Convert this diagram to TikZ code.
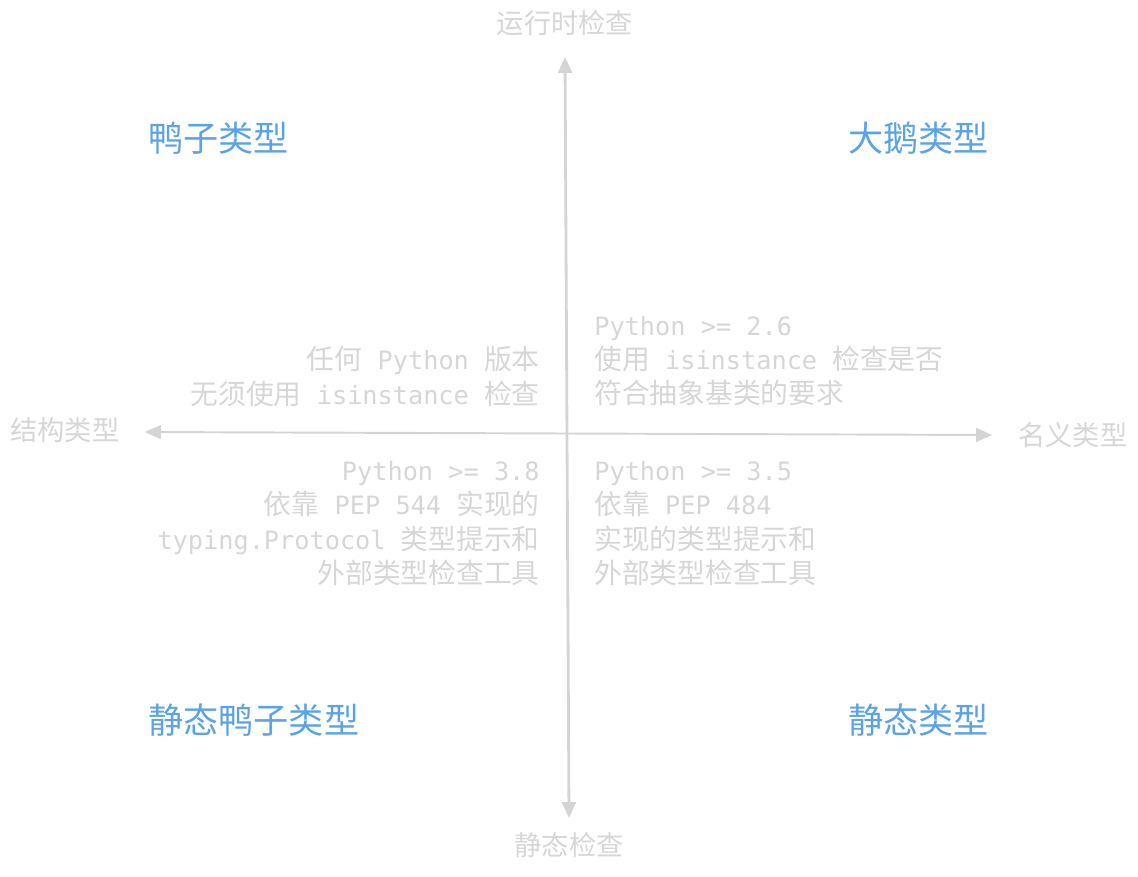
\documentclass[tikz,border=0pt]{standalone}
\usepackage{fontspec}
\setmainfont{Noto Sans CJK SC}
\setmonofont{DejaVu Sans Mono}[Scale=0.91]
\usetikzlibrary{arrows.meta}
\definecolor{axisgray}{HTML}{D4D4D4}
\definecolor{notegray}{HTML}{D6D6D6}
\definecolor{typeblue}{HTML}{5BA3E6}

\begin{document}
\begin{tikzpicture}[x=0.02cm,y=-0.02cm,
		axis/.style={draw=axisgray,{Triangle[length=0.32cm,width=0.28cm]}-{Triangle[length=0.32cm,width=0.28cm]}},
		axislabel/.style={text=notegray,inner sep=0pt,font=\fontsize{15.5}{19}\selectfont},
		quadrant/.style={text=typeblue,inner sep=0pt,anchor=west,font=\fontsize{20}{24}\selectfont},
		notel/.style={text=notegray,inner sep=0pt,align=right,anchor=north east,font=\fontsize{15.8}{19.6}\selectfont},
		noter/.style={text=notegray,inner sep=0pt,align=left,anchor=north west,font=\fontsize{15.8}{19.3}\selectfont}]

\useasboundingbox (0,0) rectangle (1138,876);

% axes
\coordinate (vtop) at (565,57);
\coordinate (vbot) at (569,818);
\coordinate (hleft) at (145,432);
\coordinate (hright) at (992,435);
\draw[axis,line width=1.6pt] (vbot) -- (vtop);
\draw[axis,line width=1.1pt] (hleft) -- (hright);

\node[axislabel] (runtime) at (565,23) {运行时检查};
\node[axislabel] (staticcheck) at (569,845) {静态检查};
\node[axislabel,anchor=west] (structural) at (10,430) {结构类型};
\node[axislabel,anchor=west] (nominal) at (1018,435) {名义类型};

% quadrants
\node[quadrant] (duck) at (148,138) {鸭子类型};
\node[quadrant] (goose) at (848,138) {大鹅类型};
\node[quadrant] (staticduck) at (148,720) {静态鸭子类型};
\node[quadrant] (statictype) at (848,720) {静态类型};

% notes
\node[notel] (notetl) at (540,346) {任何\texttt{ Python }版本\\
		无须使用\texttt{ isinstance }检查};
\node[noter] (notetr) at (594,316) {\texttt{Python >= 2.6}\\
		使用\texttt{ isinstance }检查是否\\
		符合抽象基类的要求};
\node[notel] (notebl) at (540,461) {\texttt{Python >= 3.8}\\
		依靠\texttt{ PEP 544 }实现的\\
		\texttt{typing.Protocol }类型提示和\\
		外部类型检查工具};
\node[notel,align=left,anchor=north west] (notebr) at (594,461) {\texttt{Python >= 3.5}\\
		依靠\texttt{ PEP 484}\\
		实现的类型提示和\\
		外部类型检查工具};
\end{tikzpicture}
\end{document}
